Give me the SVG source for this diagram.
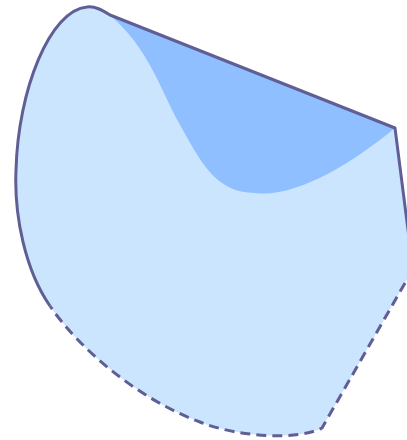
<svg xmlns="http://www.w3.org/2000/svg" width="407" height="440" viewBox="0 0 407 440">
  <style>
    .line { fill: none; stroke: #5f5f95; stroke-width: 3; stroke-linejoin: round; stroke-linecap: butt; }
    .dash { stroke-dasharray: 10 6; }
  </style>
  <defs>
    <clipPath id="outer">
      <path d="M50,306 C25,270 14,215 16,170 C18,90 50,10 87,7 C95,6 102,10 110,15 L395,128 L413,269 L322,428 C300,440 240,438 200,422 C140,400 80,350 50,306 Z"/>
    </clipPath>
  </defs>
  <rect width="407" height="440" fill="#ffffff"/>
  <g id="region">
    <path d="M50,306 C25,270 14,215 16,170 C18,90 50,10 87,7 C95,6 102,10 110,15 L395,128 L413,269 L322,428 C300,440 240,438 200,422 C140,400 80,350 50,306 Z" fill="#cce5ff"/>
    <path clip-path="url(#outer)" d="M95,5 L395,128 C350,165 295,198 255,193 C215,193 200,160 180,125 C160,90 145,35 95,5 Z" fill="#8fbfff"/>
  </g>
  <g id="boundary">
    <path class="line" d="M50,306 C25,270 14,215 16,170 C18,90 50,10 87,7 C95,6 102,10 110,15 L395,128 L413,269"/>
    <path class="line dash" d="M413,269 L322,428 C300,440 240,438 200,422 C140,400 80,350 50,306"/>
  </g>
</svg>
